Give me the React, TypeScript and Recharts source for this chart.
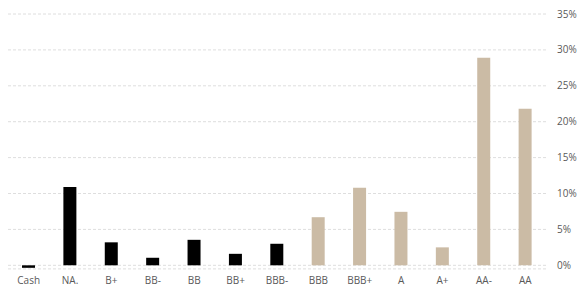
import React from "react";
import { BarChart, Bar, XAxis, YAxis, CartesianGrid, Cell } from "recharts";

const categories = ["Cash", "NA.", "B+", "BB-", "BB", "BB+", "BBB-", "BBB", "BBB+", "A", "A+", "AA-", "AA"];
const weights = [-0.35, 10.9, 3.2, 1.05, 3.55, 1.6, 3.0, 6.7, 10.8, 7.45, 2.5, 28.9, 21.8];
const groups = ["hy", "hy", "hy", "hy", "hy", "hy", "hy", "ig", "ig", "ig", "ig", "ig", "ig"];
const yTicks = [0, 5, 10, 15, 20, 25, 30, 35];

const groupColor: Record<string, string> = { hy: "#000000", ig: "#cbbba5" };

const data = categories.map((c, i) => ({ rating: c, weight: weights[i], group: groups[i] }));

export default function App() {
  return (
    <div style={{ position: "absolute", left: 0, top: 0 }}>
      <BarChart
        width={586}
        height={287}
        data={data}
        margin={{ top: 14, right: 0, bottom: 0, left: 8 }}
        style={{ fontFamily: "'Open Sans', sans-serif" }}
      >
        <CartesianGrid vertical={false} stroke="#dedede" strokeDasharray="3 2" />
        <XAxis
          dataKey="rating"
          axisLine={false}
          tickLine={false}
          tickSize={0}
          tickMargin={7.5}
          height={18.1}
          interval={0}
          tick={{ fill: "#595959", fontSize: 10 }}
        />
        <YAxis
          orientation="right"
          width={40}
          domain={[-0.5, 35]}
          ticks={yTicks}
          allowDataOverflow
          axisLine={false}
          tickLine={false}
          tickSize={0}
          tickMargin={11}
          tickFormatter={(v: number) => `${v}%`}
          tick={{ fill: "#595959", fontSize: 10 }}
        />
        <Bar dataKey="weight" barSize={13} isAnimationActive={false}>
          {data.map((d, i) => (
            <Cell key={i} fill={groupColor[d.group]} />
          ))}
        </Bar>
      </BarChart>
    </div>
  );
}
